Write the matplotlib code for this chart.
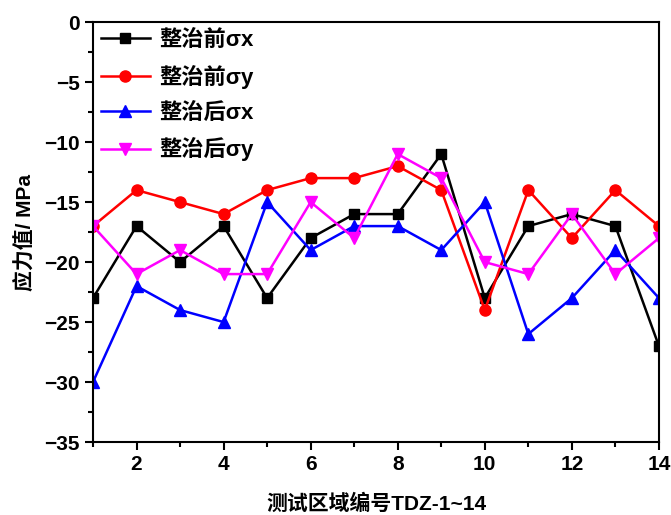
import numpy as np
import matplotlib.pyplot as plt
from matplotlib.ticker import MultipleLocator

plt.rcParams['font.family'] = ['Liberation Sans', 'Noto Sans CJK SC']
plt.rcParams['font.weight'] = 'bold'
plt.rcParams['axes.labelweight'] = 'bold'

# test zone numbers
zones = np.arange(1, 15)
# stress values (MPa)
before_sx = [-23, -17, -20, -17, -23, -18, -16, -16, -11, -23, -17, -16, -17, -27]
before_sy = [-17, -14, -15, -16, -14, -13, -13, -12, -14, -24, -14, -18, -14, -17]
after_sx = [-30, -22, -24, -25, -15, -19, -17, -17, -19, -15, -26, -23, -19, -23]
after_sy = [-17, -21, -19, -21, -21, -15, -18, -11, -13, -20, -21, -16, -21, -18]

labels = ['整治前σx', '整治前σy', '整治后σx', '整治后σy']

fig = plt.figure(figsize=(6.71, 5.15), dpi=100)
ax = fig.add_axes([0.1386, 0.1417, 0.8434, 0.8153])

ax.plot(zones, before_sx, color='black', marker='s', ms=7, lw=1.8, label=labels[0])
ax.plot(zones, before_sy, color='red', marker='o', ms=8, lw=1.8, label=labels[1])
ax.plot(zones, after_sx, color='blue', marker='^', ms=9, lw=1.8, label=labels[2])
ax.plot(zones, after_sy, color='magenta', marker='v', ms=9, lw=1.8, label=labels[3])

ax.set_xlim(1, 14)
ax.set_ylim(-35, 0)
ax.xaxis.set_major_locator(MultipleLocator(2))
ax.xaxis.set_minor_locator(MultipleLocator(1))
ax.yaxis.set_major_locator(MultipleLocator(5))
ax.yaxis.set_minor_locator(MultipleLocator(2.5))
ax.tick_params(which='major', direction='out', length=6, width=1.5, labelsize=15)
ax.tick_params(which='minor', direction='out', length=3.5, width=1.5)
for s in ax.spines.values():
    s.set_linewidth(1.5)

ax.set_xlabel('测试区域编号TDZ-1~14', fontsize=15, fontweight='bold', labelpad=14)
ax.set_ylabel('应力值/ MPa', fontsize=15, fontweight='bold', labelpad=6)

ax.legend(loc='upper left', frameon=False, prop={'size': 16, 'weight': 'bold'},
          handlelength=2.2, handletextpad=0.45, borderaxespad=0.05,
          borderpad=0.3, labelspacing=0.62)

fig.savefig('out.png', dpi=100)
